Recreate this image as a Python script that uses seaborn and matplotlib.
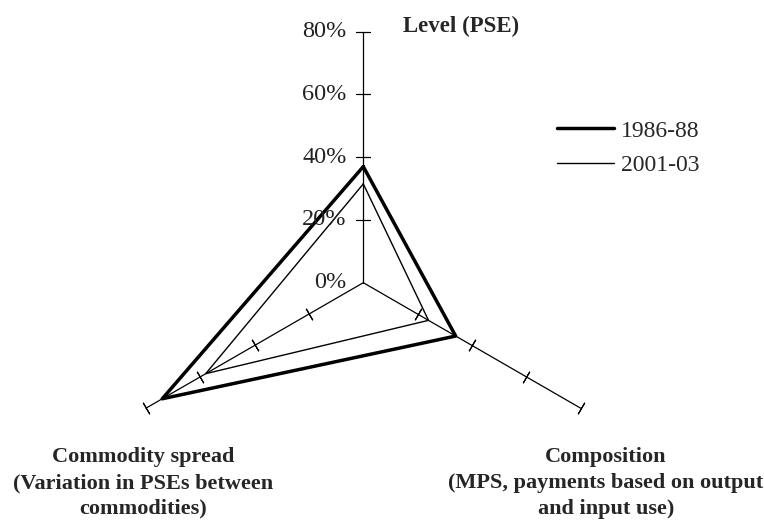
import numpy as np
import pandas as pd
import seaborn as sns
from matplotlib import pyplot as plt
from matplotlib.lines import Line2D

# data
axes_names = ['Level (PSE)', 'Composition', 'Commodity spread']
periods = ['1986-88', '2001-03']
values_8688 = [37, 34, 74]
values_0103 = [31.5, 24, 58]
r_ticks = [0, 20, 40, 60, 80]
r_labels = ['0%', '20%', '40%', '60%', '80%']

# spoke directions (degrees): top, lower right, lower left
spoke_deg = [90, -30, 210]
theta = np.deg2rad(spoke_deg)

rows = []
for period, vals in zip(periods, [values_8688, values_0103]):
    # close the triangle by repeating the first point
    for t, v in zip(list(theta) + [theta[0]], list(vals) + [vals[0]]):
        rows.append({'period': period, 'theta': t, 'value': v})
df = pd.DataFrame(rows)

sns.set_theme(style='white')
plt.rcParams['font.family'] = ['Liberation Serif', 'DejaVu Serif']

W, H = 764, 520
fig = plt.figure(figsize=(W / 100, H / 100), dpi=100)
cx, cy, R = 363.3, 282.7, 251
ax = fig.add_axes([(cx - R) / W, (H - cy - R) / H, 2 * R / W, 2 * R / H],
                  projection='polar')
ax.set_ylim(0, 80)
ax.grid(False)
ax.spines['polar'].set_visible(False)
ax.set_xticks([])
ax.set_yticks([])
ax.patch.set_alpha(0)

# spokes with perpendicular ticks
for t, d in zip(theta, spoke_deg):
    ax.plot([t, t], [0, 80], color='black', lw=0.9, zorder=1, clip_on=False)
    ax.plot([t] * (len(r_ticks) - 1), r_ticks[1:], linestyle='none',
            marker=(2, 2, d), markersize=9.5, markeredgewidth=0.8,
            color='black', zorder=1, clip_on=False)

widths = {'1986-88': 2.5, '2001-03': 1.0}
for period in periods:
    sns.lineplot(data=df[df['period'] == period], x='theta', y='value',
                 sort=False, estimator=None, color='black',
                 linewidth=widths[period], ax=ax, legend=False, zorder=3)
ax.set_xlabel('')
ax.set_ylabel('')

# radial labels on the top spoke
for r, lab in zip(r_ticks, r_labels):
    ax.annotate(lab, xy=(np.pi / 2, r), xytext=(-12, 0),
                textcoords='offset points', ha='right', va='center',
                fontsize=17.5, color='#222222')

# axis names
fig.text(461 / W, 1 - 26 / H, axes_names[0], ha='center', va='center',
         fontsize=16.5, fontweight='bold')
fig.text(606 / W, 1 - 483 / H,
         'Composition\n(MPS, payments based on output\nand input use)',
         ha='center', va='center', fontsize=16, fontweight='bold',
         linespacing=1.38)
fig.text(143 / W, 1 - 483 / H,
         'Commodity spread\n(Variation in PSEs between\ncommodities)',
         ha='center', va='center', fontsize=16, fontweight='bold',
         linespacing=1.38)

handles = [Line2D([], [], color='black', lw=widths[p]) for p in periods]
fig.legend(handles, periods, loc='center left',
           bbox_to_anchor=(557 / W, 1 - 148 / H), frameon=False,
           fontsize=17, handlelength=2.4, handletextpad=0.3,
           labelspacing=0.55, borderpad=0, borderaxespad=0)

fig.savefig('out.png', dpi=100)
